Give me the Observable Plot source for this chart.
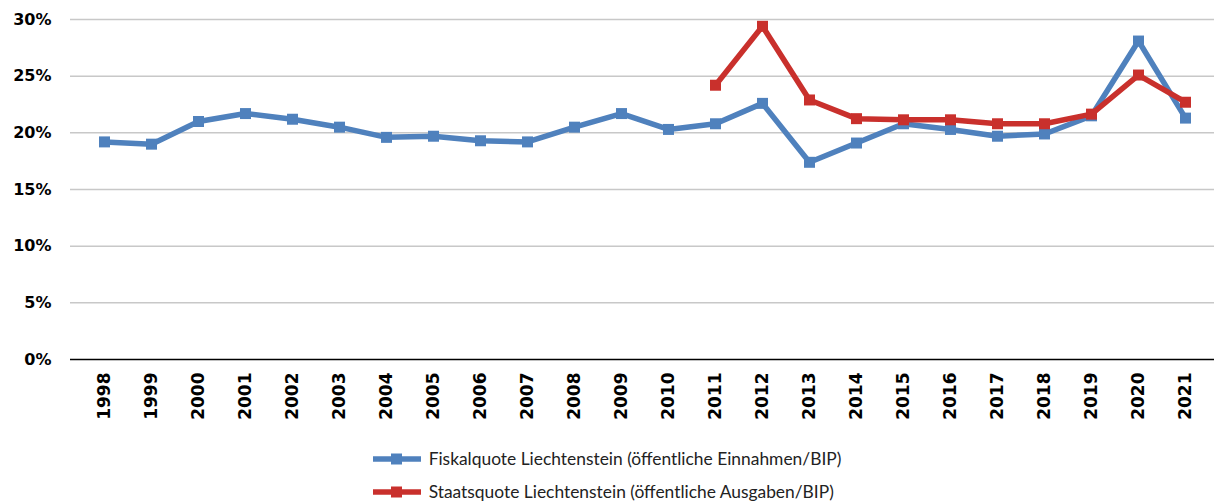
<!DOCTYPE html>
<html>
<head>
<meta charset="utf-8">
<script src="https://cdn.jsdelivr.net/npm/d3@7"></script>
<script src="https://cdn.jsdelivr.net/npm/@observablehq/plot@0.6"></script>
<style>
  html, body { margin: 0; padding: 0; background: #fff; overflow: hidden; }
  #chart svg { display: block; }
  #legend { display: flex; flex-direction: column; align-items: flex-start; width: fit-content; margin: 2px auto 0 auto; font-family: Lato, "Open Sans", sans-serif; font-size: 17.4px; color: #222; }
  #legend .row { display: flex; align-items: center; height: 33px; }
  #legend svg { margin-right: 8px; }
</style>
</head>
<body>
<div id="chart"></div>
<div id="legend"></div>
<script>
const years = ["1998","1999","2000","2001","2002","2003","2004","2005","2006","2007","2008","2009","2010","2011","2012","2013","2014","2015","2016","2017","2018","2019","2020","2021"];
const fiskalquote = [19.2, 19.0, 21.0, 21.7, 21.2, 20.5, 19.6, 19.7, 19.3, 19.2, 20.5, 21.7, 20.3, 20.8, 22.6, 17.4, 19.1, 20.8, 20.3, 19.7, 19.9, 21.5, 28.1, 21.3];
const staatsquote = [null, null, null, null, null, null, null, null, null, null, null, null, null, 24.2, 29.4, 22.9, 21.25, 21.15, 21.15, 20.8, 20.8, 21.65, 25.1, 22.7];
const yTicks = [0, 5, 10, 15, 20, 25, 30];
const seriesNames = ["Fiskalquote Liechtenstein (öffentliche Einnahmen/BIP)", "Staatsquote Liechtenstein (öffentliche Ausgaben/BIP)"];
const seriesColors = ["#4F81BD", "#C9302C"];

const fisk = years.map((y, i) => ({year: y, value: fiskalquote[i]}));
const staat = years.map((y, i) => ({year: y, value: staatsquote[i]})).filter(d => d.value != null);

const chart = Plot.plot({
  width: 1214,
  height: 440,
  marginLeft: 70,
  marginRight: 0,
  marginTop: 19,
  marginBottom: 81,
  x: {type: "point", domain: years, range: [95, 1193], padding: 0},
  y: {domain: [0, 30]},
  style: {fontFamily: "DejaVu Sans", color: "#000", background: "#fff"},
  marks: [
    Plot.ruleY(yTicks.filter(t => t > 0), {stroke: "#c8c8c8", strokeWidth: 1.5}),
    Plot.ruleY([0], {stroke: "#000", strokeWidth: 1.5}),
    Plot.axisY({ticks: yTicks, tickSize: 0, tickPadding: 19, tickFormat: d => d + "%", fontSize: 16, fontWeight: "bold", label: null}),
    Plot.axisX({tickRotate: -90, tickSize: 0, tickPadding: 13, fontSize: 17, fontWeight: "bold", label: null}),
    Plot.line(fisk, {x: "year", y: "value", stroke: seriesColors[0], strokeWidth: 5.5}),
    Plot.dot(fisk, {x: "year", y: "value", symbol: "square", r: 6.2, fill: seriesColors[0]}),
    Plot.line(staat, {x: "year", y: "value", stroke: seriesColors[1], strokeWidth: 5.5}),
    Plot.dot(staat, {x: "year", y: "value", symbol: "square", r: 6.2, fill: seriesColors[1]})
  ]
});
document.getElementById("chart").appendChild(chart);

const legend = document.getElementById("legend");
seriesNames.forEach((name, i) => {
  const row = document.createElement("div");
  row.className = "row";
  row.innerHTML = `<svg width="48" height="14"><line x1="1" y1="7" x2="47" y2="7" stroke="${seriesColors[i]}" stroke-width="5.5" stroke-linecap="round"/><rect x="18" y="1.5" width="11" height="11" fill="${seriesColors[i]}"/></svg><span>${name}</span>`;
  legend.appendChild(row);
});
</script>
</body>
</html>
